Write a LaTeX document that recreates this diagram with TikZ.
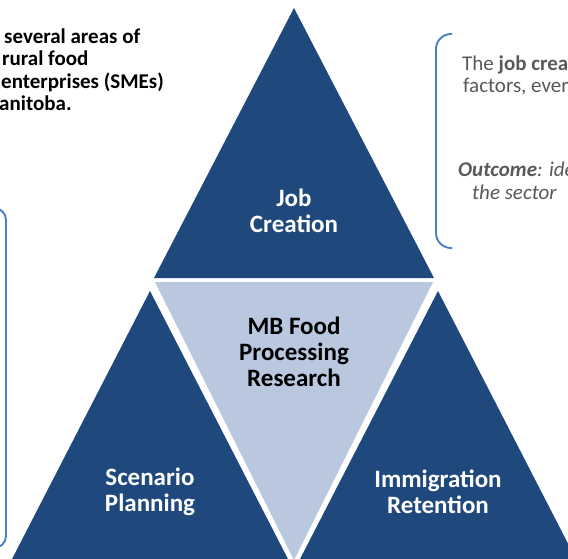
\documentclass[tikz,border=0pt]{standalone}
\usepackage{fontspec}
\setmainfont{Carlito}
\definecolor{darkblue}{HTML}{1F497D}
\definecolor{lightblue}{HTML}{B9C7DF}
\definecolor{bracketblue}{HTML}{4A7EC7}
\definecolor{greytext}{HTML}{595959}
\begin{document}
\begin{tikzpicture}[x=1pt,y=-1pt,
  darktri/.style={fill=darkblue},
  lighttri/.style={fill=lightblue},
  bracketline/.style={draw=bracketblue, line width=1.9pt, rounded corners=15pt},
  trilabel/.style={text=white, font=\bfseries\fontsize{25}{26}\selectfont, align=center, inner sep=0pt},
  midlabel/.style={text=black, font=\bfseries\fontsize{25}{26}\selectfont, align=center, inner sep=0pt},
  lefttext/.style={text=black, font=\bfseries\fontsize{21}{22}\selectfont, anchor=base west, inner sep=0pt},
  righttext/.style={text=greytext, font=\fontsize{21}{22}\selectfont, anchor=base west, inner sep=0pt}]
\useasboundingbox (0,0) rectangle (568,558);
\clip (0,0) rectangle (568,558);
\fill[white] (0,0) rectangle (568,558);
% triangles
\path[darktri] (294,8) -- (434,278) -- (154,278) -- cycle;
\path[lighttri] (155,282) -- (433,282) -- (294,560) -- cycle;
\path[darktri] (150,291) -- (289,561) -- (11,561) -- cycle;
\path[darktri] (438,291) -- (577,561) -- (299,561) -- cycle;
% brackets
\draw[bracketline] (452,34) -- (436,34) -- (436,248) -- (452,248);
\draw[bracketline, rounded corners=12pt] (-10,208) -- (6,208) -- (6,548) -- (-10,548);
% labels
\node[trilabel] (job) at (294,211) {Job\\Creation};
\node[midlabel] (mb) at (294,352) {MB Food\\Processing\\Research};
\node[trilabel] (scen) at (150,492) {Scenario\\Planning};
\node[trilabel] (imm) at (438,492) {Immigration\\Retention};
% left text
\node[lefttext] (l1) at (4,43) {several areas of};
\node[lefttext] (l2) at (2,65.5) {rural food};
\node[lefttext] (l3) at (1,88) {enterprises (SMEs)};
\node[lefttext] (l4) at (-1,110.5) {anitoba.};
% right text
\node[righttext] (r1) at (462,70) {The \textbf{job crea}};
\node[righttext] (r2) at (463,92.5) {factors, ever};
\node[righttext] (r3) at (458,176) {\textbf{\textit{Outcome}}\textit{: ide}};
\node[righttext] (r4) at (472,199) {\textit{the sector}};
\end{tikzpicture}
\end{document}
